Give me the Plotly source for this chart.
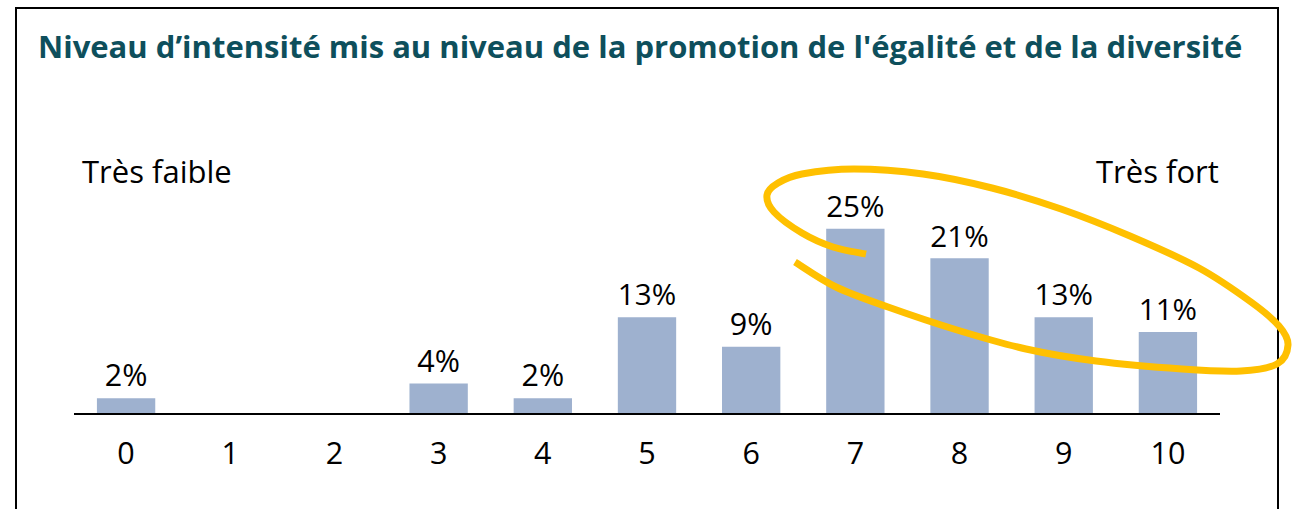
import plotly.graph_objects as go

categories = [0, 1, 2, 3, 4, 5, 6, 7, 8, 9, 10]
tick_labels = ["0", "1", "2", "3", "4", "5", "6", "7", "8", "9", "10"]
values = [2, 0, 0, 4, 2, 13, 9, 25, 21, 13, 11]
value_labels = ["2%", "", "", "4%", "2%", "13%", "9%", "25%", "21%", "13%", "11%"]

title_text = "Niveau d\u2019intensité mis au niveau de la promotion de l'égalité et de la diversité"
low_label = "Très faible"
high_label = "Très fort"

W, H = 1292, 509
ML, MR, MT, MB = 74, 72, 192, 96
PW = W - ML - MR
PH = H - MT - MB

FONT = "Open Sans"
TITLE_COLOR = "#0E4F5C"
BAR_COLOR = "#9EB1CF"
RING_COLOR = "#FFC000"


def px(xp, yp):
    return ((xp - ML) / PW, (H - MB - yp) / PH)


fig = go.Figure(
    go.Bar(
        x=categories,
        y=values,
        text=value_labels,
        textposition="outside",
        textfont=dict(family=FONT, size=30.5, color="black"),
        marker=dict(color=BAR_COLOR, line=dict(width=0)),
        width=0.56,
        cliponaxis=False,
        hoverinfo="skip",
    )
)

# hand-drawn highlight ring (decoration, pixel outline converted to paper)
ring_pts = [(866, 254), (833, 247), (802, 233), (774, 212), (767, 195), (778, 183),
            (802, 174), (854, 169), (923, 174), (992, 188), (1061, 209), (1130, 236),
            (1199, 268), (1251, 302), (1279, 326), (1288, 345), (1277, 364), (1241, 371),
            (1182, 369), (1096, 361), (1026, 349), (957, 330), (888, 307), (836, 287),
            (795, 262)]
pp = [px(x, y) for x, y in ring_pts]


def ring_path(i0, i1):
    s = f"M {pp[i0][0]:.5f},{pp[i0][1]:.5f}"
    for i in range(i0, i1):
        p0 = pp[i - 1] if i > 0 else pp[i]
        p1 = pp[i]
        p2 = pp[i + 1]
        p3 = pp[i + 2] if i + 2 < len(pp) else pp[i + 1]
        c1 = (p1[0] + (p2[0] - p0[0]) / 6, p1[1] + (p2[1] - p0[1]) / 6)
        c2 = (p2[0] - (p3[0] - p1[0]) / 6, p2[1] - (p3[1] - p1[1]) / 6)
        s += f" C {c1[0]:.5f},{c1[1]:.5f} {c2[0]:.5f},{c2[1]:.5f} {p2[0]:.5f},{p2[1]:.5f}"
    return s


ring_shapes = [
    dict(type="path", xref="paper", yref="paper", path=ring_path(0, len(pp) - 1),
         line=dict(color=RING_COLOR, width=7), fillcolor="rgba(0,0,0,0)", layer="above"),
]

bx0, by0 = px(16, 8)
bx1, by1 = px(1278, 530)

fig.update_layout(
    width=W,
    height=H,
    margin=dict(l=ML, r=MR, t=MT, b=MB, autoexpand=False),
    paper_bgcolor="white",
    plot_bgcolor="white",
    showlegend=False,
    bargap=0.44,
    title=dict(
        text=title_text,
        font=dict(family=FONT, size=31, color=TITLE_COLOR, weight="bold"),
        xref="container", yref="container",
        x=38 / W, xanchor="left",
        y=1 - 47 / H, yanchor="middle",
    ),
    xaxis=dict(
        range=[-0.5, 10.5],
        tickvals=categories,
        ticktext=tick_labels,
        tickfont=dict(family=FONT, size=30.5, color="black"),
        showline=True, linecolor="black", linewidth=2,
        showgrid=False, zeroline=False,
        ticks="outside", ticklen=12, tickcolor="rgba(0,0,0,0)",
        fixedrange=True,
    ),
    yaxis=dict(range=[0, 30], visible=False, fixedrange=True),
    shapes=[
        dict(type="rect", xref="paper", yref="paper",
             x0=bx0, y0=by1, x1=bx1, y1=by0,
             line=dict(color="black", width=2), fillcolor="rgba(0,0,0,0)", layer="below"),
    ] + ring_shapes,
    annotations=[
        dict(text=low_label, xref="paper", yref="paper",
             x=px(80, 171)[0], y=px(80, 171)[1], xanchor="left", yanchor="middle",
             showarrow=False, font=dict(family=FONT, size=31, color="black")),
        dict(text=high_label, xref="paper", yref="paper",
             x=px(1221, 171)[0], y=px(1221, 171)[1], xanchor="right", yanchor="middle",
             showarrow=False, font=dict(family=FONT, size=31, color="black")),
    ],
)

fig.write_html(
    "out.html",
    config={"displayModeBar": False},
    post_script="document.body.style.margin='0';document.body.style.overflow='hidden';",
)
